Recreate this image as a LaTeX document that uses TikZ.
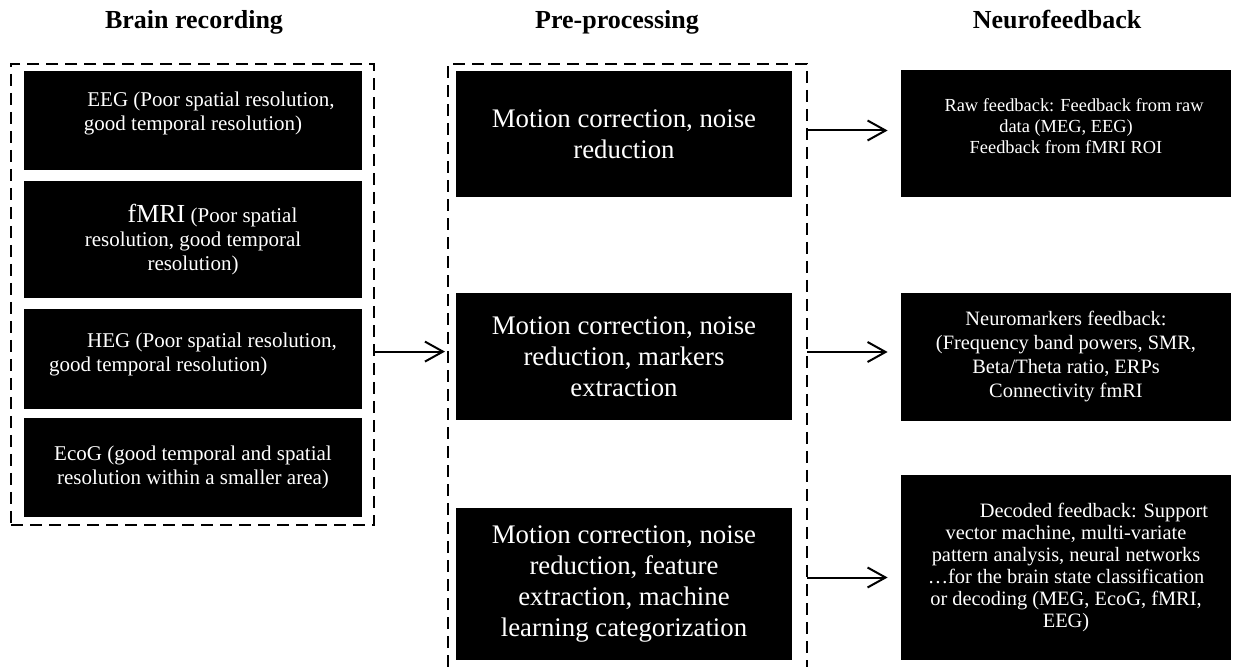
\documentclass[tikz,border=0pt]{standalone}
\usepackage{fontspec}
\setmainfont{Liberation Serif}
\usetikzlibrary{arrows.meta, positioning, calc}

\begin{document}
\begin{tikzpicture}[
    x=0.5pt, y=-0.5pt,
    block/.style={rectangle, fill=black, text=white, inner sep=0pt, align=center},
    recblock/.style={block, minimum width=169pt, font=\fontsize{10.5}{12}\selectfont},
    preblock/.style={block, minimum width=168pt, font=\fontsize{13.4}{15.5}\selectfont},
    fbblock/.style={block, minimum width=165pt},
    group/.style={draw, line width=1pt, dash pattern=on 6pt off 3.5pt},
    header/.style={anchor=base, font=\fontsize{13}{15}\selectfont\bfseries},
    arrow/.style={line width=1pt, -{Straight Barb[length=9pt,width=10pt]}}
]
\useasboundingbox (0,0) rectangle (1236,667);

% Headers
\node (hrec) [header] at (194,29) {Brain recording};
\node (hpre) [header] at (617,29) {Pre-processing};
\node (hfb) [header] at (1057,29) {Neurofeedback};

% Brain recording
\node (recgrp) [group, minimum width=181.5pt, minimum height=230.5pt] at (192.5,294.5) {};
\node (eeg) [recblock, minimum height=49.5pt, text depth=9.3pt] at (193,120.5)
    {\hspace*{18pt}EEG (Poor spatial resolution,\\good temporal resolution)};
\node (fmri) [recblock, minimum height=58.5pt, below=5pt of eeg]
    {\hspace*{19.5pt}{\fontsize{13}{12}\selectfont fMRI} (Poor spatial\\resolution, good temporal\\resolution)};
\node (heg) [recblock, minimum height=50pt, text depth=6.3pt, below=5pt of fmri, align=left]
    {\hspace*{19pt}HEG (Poor spatial resolution,\\good temporal resolution)};
\node (ecog) [recblock, minimum height=49.5pt, below=4.5pt of heg]
    {EcoG (good temporal and spatial\\resolution within a smaller area)};

% Pre-processing
\coordinate (preSW) at (448,667);
\coordinate (preNW) at (448,64);
\coordinate (preNE) at (807,64);
\coordinate (preSE) at (807,667);
\draw [group] (preSW) -- (preNW) -- (preNE) -- (preSE);
\node (pre1) [preblock, minimum height=63pt] at (624,134)
    {Motion correction, noise\\reduction};
\node (pre2) [preblock, minimum height=63.5pt] at (624,356.5)
    {Motion correction, noise\\reduction, markers\\extraction};
\node (pre3) [preblock, minimum height=76pt] at (624,584)
    {Motion correction, noise\\reduction, feature\\extraction, machine\\learning categorization};

% Neurofeedback
\node (raw) [fbblock, minimum height=63.5pt, text depth=7pt, font=\fontsize{9.2}{10.5}\selectfont] at (1066,133.5)
    {\hspace*{8pt}Raw feedback: Feedback from raw\\data (MEG, EEG)\\Feedback from fMRI ROI};
\node (markers) [fbblock, minimum height=64pt, font=\fontsize{10.2}{12}\selectfont] at (1066,357)
    {Neuromarkers feedback:\\(Frequency band powers, SMR,\\Beta/Theta ratio, ERPs\\Connectivity fmRI};
\node (decoded) [fbblock, minimum height=92.5pt, font=\fontsize{10.2}{11}\selectfont] at (1066,567.5)
    {\hspace*{28pt}Decoded feedback: Support\\vector machine, multi-variate\\pattern analysis, neural networks\\…for the brain state classification\\or decoding (MEG, EcoG, fMRI,\\EEG)};

% Arrows
\draw [arrow, shorten >=1.5pt] ([yshift=3.5pt]heg.east -| recgrp.east) -- ([yshift=3.5pt]heg.east -| preNW);
\draw [arrow, shorten >=6.5pt] ([yshift=1.5pt]raw.west -| preNE) -- ([yshift=1.5pt]raw.west);
\draw [arrow, shorten >=6.5pt] ([yshift=2.5pt]markers.west -| preNE) -- ([yshift=2.5pt]markers.west);
\draw [arrow, shorten >=6.5pt] ([yshift=-5pt]decoded.west -| preNE) -- ([yshift=-5pt]decoded.west);

\end{tikzpicture}
\end{document}
